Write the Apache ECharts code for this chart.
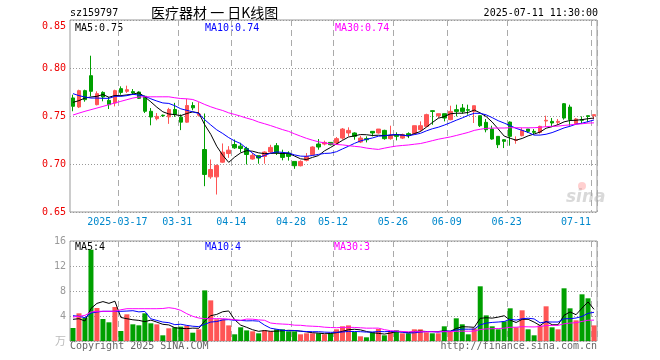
<!DOCTYPE html>
<html>
<head>
<meta charset="utf-8">
<script src="https://cdn.jsdelivr.net/npm/echarts@6/dist/echarts.min.js"></script>
<style>
    html, body {margin: 0; padding: 0; background: #fff;}
    #chart {width: 660px; height: 360px;}
</style>
</head>
<body>
<div id="chart"></div>
<script>
// 交易日
const dates = [
    '2025-03-05', '2025-03-06', '2025-03-07', '2025-03-10', '2025-03-11', '2025-03-12', '2025-03-13', '2025-03-14',
    '2025-03-17', '2025-03-18', '2025-03-19', '2025-03-20', '2025-03-21', '2025-03-24', '2025-03-25', '2025-03-26',
    '2025-03-27', '2025-03-28', '2025-03-31', '2025-04-01', '2025-04-02', '2025-04-03', '2025-04-07', '2025-04-08',
    '2025-04-09', '2025-04-10', '2025-04-11', '2025-04-14', '2025-04-15', '2025-04-16', '2025-04-17', '2025-04-18',
    '2025-04-21', '2025-04-22', '2025-04-23', '2025-04-24', '2025-04-25', '2025-04-28', '2025-04-29', '2025-04-30',
    '2025-05-06', '2025-05-07', '2025-05-08', '2025-05-09', '2025-05-12', '2025-05-13', '2025-05-14', '2025-05-15',
    '2025-05-16', '2025-05-19', '2025-05-20', '2025-05-21', '2025-05-22', '2025-05-23', '2025-05-26', '2025-05-27',
    '2025-05-28', '2025-05-29', '2025-05-30', '2025-06-03', '2025-06-04', '2025-06-05', '2025-06-06', '2025-06-09',
    '2025-06-10', '2025-06-11', '2025-06-12', '2025-06-13', '2025-06-16', '2025-06-17', '2025-06-18', '2025-06-19',
    '2025-06-20', '2025-06-23', '2025-06-24', '2025-06-25', '2025-06-26', '2025-06-27', '2025-06-30', '2025-07-01',
    '2025-07-02', '2025-07-03', '2025-07-04', '2025-07-07', '2025-07-08', '2025-07-09', '2025-07-10', '2025-07-11'
];

// 刻度日期
const tickDates = ['2025-03-17', '2025-03-31', '2025-04-14', '2025-04-28', '2025-05-12',
    '2025-05-26', '2025-06-09', '2025-06-23', '2025-07-11'];

const opens = [
    0.7688, 0.7594, 0.7764, 0.7920, 0.7618, 0.7746, 0.7663, 0.7635, 0.7785, 0.7757,
    0.7754, 0.7750, 0.7705, 0.7549, 0.7472, 0.7508, 0.7491, 0.7568, 0.7488, 0.7436,
    0.7609, 0.7509, 0.7151, 0.6866, 0.6866, 0.7019, 0.7109, 0.7203, 0.7186, 0.7162,
    0.7052, 0.7087, 0.7079, 0.7125, 0.7191, 0.7114, 0.7114, 0.7027, 0.6982, 0.7038,
    0.7097, 0.7208, 0.7208, 0.7225, 0.7218, 0.7270, 0.7323, 0.7323, 0.7229, 0.7264,
    0.7340, 0.7323, 0.7350, 0.7264, 0.7305, 0.7270, 0.7316, 0.7316, 0.7357, 0.7392,
    0.7555, 0.7503, 0.7524, 0.7462, 0.7566, 0.7583, 0.7566, 0.7548, 0.7503, 0.7434,
    0.7364, 0.7288, 0.7253, 0.7437, 0.7246, 0.7295, 0.7364, 0.7340, 0.7330, 0.7448,
    0.7444, 0.7434, 0.7628, 0.7593, 0.7420, 0.7462, 0.7503, 0.7503
];
const closes = [
    0.7601, 0.7764, 0.7670, 0.7757, 0.7733, 0.7698, 0.7618, 0.7764, 0.7746, 0.7774,
    0.7740, 0.7684, 0.7549, 0.7489, 0.7496, 0.7503, 0.7568, 0.7516, 0.7436, 0.7609,
    0.7585, 0.7520, 0.6891, 0.6943, 0.6984, 0.7123, 0.7144, 0.7168, 0.7162, 0.7099,
    0.7090, 0.7062, 0.7125, 0.7173, 0.7114, 0.7069, 0.7079, 0.6982, 0.7027, 0.7079,
    0.7177, 0.7177, 0.7225, 0.7201, 0.7264, 0.7364, 0.7350, 0.7288, 0.7270, 0.7253,
    0.7323, 0.7364, 0.7264, 0.7295, 0.7288, 0.7305, 0.7298, 0.7399, 0.7399, 0.7514,
    0.7548, 0.7524, 0.7479, 0.7548, 0.7548, 0.7548, 0.7560, 0.7607, 0.7399, 0.7357,
    0.7260, 0.7201, 0.7236, 0.7288, 0.7253, 0.7350, 0.7340, 0.7330, 0.7392, 0.7455,
    0.7427, 0.7444, 0.7479, 0.7462, 0.7469, 0.7455, 0.7496, 0.7514
];
const lows = [
    0.7549, 0.7583, 0.7649, 0.7705, 0.7611, 0.7653, 0.7573, 0.7600, 0.7722, 0.7740,
    0.7722, 0.7677, 0.7531, 0.7403, 0.7455, 0.7490, 0.7418, 0.7491, 0.7353, 0.7429,
    0.7560, 0.7495, 0.6769, 0.6846, 0.6682, 0.7012, 0.7064, 0.7158, 0.7123, 0.6995,
    0.7045, 0.7003, 0.7003, 0.7114, 0.7094, 0.7038, 0.7035, 0.6950, 0.6975, 0.7027,
    0.7087, 0.7149, 0.7194, 0.7194, 0.7201, 0.7253, 0.7288, 0.7253, 0.7218, 0.7225,
    0.7288, 0.7316, 0.7253, 0.7253, 0.7246, 0.7260, 0.7270, 0.7305, 0.7340, 0.7385,
    0.7409, 0.7479, 0.7444, 0.7455, 0.7496, 0.7524, 0.7514, 0.7427, 0.7385, 0.7330,
    0.7253, 0.7166, 0.7166, 0.7191, 0.7211, 0.7288, 0.7323, 0.7305, 0.7316, 0.7385,
    0.7385, 0.7410, 0.7462, 0.7399, 0.7410, 0.7420, 0.7434, 0.7469
];
const highs = [
    0.7722, 0.7774, 0.7774, 0.8128, 0.7757, 0.7757, 0.7698, 0.7774, 0.7809, 0.7816,
    0.7781, 0.7757, 0.7712, 0.7583, 0.7531, 0.7515, 0.7585, 0.7637, 0.7516, 0.7679,
    0.7644, 0.7644, 0.7526, 0.7047, 0.6995, 0.7214, 0.7186, 0.7255, 0.7221, 0.7180,
    0.7114, 0.7090, 0.7132, 0.7200, 0.7218, 0.7149, 0.7132, 0.7027, 0.7038, 0.7114,
    0.7184, 0.7260, 0.7243, 0.7225, 0.7281, 0.7375, 0.7382, 0.7330, 0.7295, 0.7288,
    0.7340, 0.7364, 0.7357, 0.7399, 0.7330, 0.7316, 0.7330, 0.7399, 0.7444, 0.7524,
    0.7558, 0.7524, 0.7524, 0.7607, 0.7618, 0.7625, 0.7618, 0.7607, 0.7503, 0.7469,
    0.7399, 0.7288, 0.7260, 0.7444, 0.7288, 0.7375, 0.7364, 0.7364, 0.7399, 0.7503,
    0.7479, 0.7469, 0.7635, 0.7618, 0.7479, 0.7496, 0.7503, 0.7514
];

// 成交量（万）
const volumes = [
    2.08, 4.43, 3.70, 14.6, 5.28, 3.52, 2.99, 5.44, 1.60, 4.27,
    2.67, 2.51, 4.43, 2.83, 2.67, 0.91, 2.03, 2.19, 2.30, 2.45,
    1.33, 1.87, 8.10, 6.50, 3.47, 3.47, 2.50, 1.07, 2.19, 1.70,
    1.55, 1.23, 1.70, 1.55, 1.87, 1.87, 1.55, 1.55, 1.07, 1.23,
    1.23, 1.23, 1.07, 1.23, 1.87, 2.35, 2.50, 1.44, 0.75, 0.59,
    1.39, 1.92, 0.91, 1.55, 1.71, 1.23, 1.23, 1.87, 1.87, 1.39,
    1.23, 1.23, 2.35, 1.55, 3.63, 2.67, 1.07, 2.03, 8.75, 4.10,
    2.35, 1.87, 3.15, 5.23, 2.19, 4.91, 1.87, 0.91, 2.50, 5.55,
    2.19, 1.87, 8.43, 5.23, 3.31, 7.47, 6.83, 2.50
];

// 均线开头几天（窗口不满，从图上读）
const priceMa5Head = [0.7642, 0.7660, 0.7687, 0.7698];
const priceMa10Head = [0.7733, 0.7712, 0.7698, 0.7687, 0.7687, 0.7684, 0.7684, 0.7705, 0.7705];
const priceMa30Head = [
    0.7510, 0.7530, 0.7549, 0.7566, 0.7583, 0.7600, 0.7618, 0.7636, 0.7653, 0.7670,
    0.7687, 0.7698, 0.7700, 0.7700, 0.7700, 0.7700, 0.7700, 0.7690, 0.7682, 0.7679,
    0.7672, 0.7648, 0.7620, 0.7596, 0.7575, 0.7557, 0.7533, 0.7516, 0.7498
];
const volMa5Head = [3.47, 3.57, 3.20, 5.20];
const volMa10Head = [4.05, 3.95, 3.73, 4.48, 4.64, 4.75, 4.75, 4.75, 4.75];
const volMa30Head = [
    3.84, 3.95, 4.10, 4.64, 4.75, 4.75, 4.75, 4.75, 5.00, 5.17,
    5.17, 5.17, 5.17, 5.17, 5.17, 5.20, 5.33, 5.20, 4.90, 4.37,
    3.95, 3.68, 3.57, 3.57, 3.57, 3.57, 3.50, 3.41, 3.31
];

const priceTicks = [0.65, 0.70, 0.75, 0.80, 0.85];
const volTicks = [0, 4, 8, 12, 16];

const RED = '#ff5555';
const GREEN = '#00a000';
const MONO = '"DejaVu Sans Mono", "Liberation Mono", monospace';

function calcMA(values, n, head) {
    return values.map(function (v, i) {
        if (i < n - 1) {
            return head[i];
        }
        let sum = 0;
        for (let j = i - n + 1; j <= i; j++) {
            sum += values[j];
        }
        return +(sum / n).toFixed(4);
    });
}

const tickIdx = tickDates.map(d => dates.indexOf(d));
const isTick = (i) => tickIdx.indexOf(i) >= 0;

const candleData = opens.map((o, i) => [o, closes[i], lows[i], highs[i]]);
const volData = volumes.map((v, i) => ({
    value: v,
    itemStyle: {color: closes[i] >= opens[i] ? RED : GREEN}
}));

const dashLine = {show: true, interval: (i) => isTick(i), lineStyle: {color: '#aaa', width: 1, type: [6, 4]}};
const dotLine = {show: true, lineStyle: {color: '#999', width: 1, type: [1, 2]}};

const chart = echarts.init(document.getElementById('chart'), null, {renderer: 'canvas'});

function label(text, x, y, color, align) {
    return {
        type: 'text', x: x, y: y, silent: true,
        style: {text: text, fill: color, font: '10px ' + MONO, textAlign: align || 'left', textVerticalAlign: 'middle'}
    };
}

const option = {
    animation: false,
    backgroundColor: '#fff',
    grid: [
        {left: 70, right: 63, top: 20, height: 192, show: true, borderColor: '#999', borderWidth: 1, backgroundColor: 'transparent'},
        {left: 70, right: 63, top: 241, height: 100, show: true, borderColor: '#999', borderWidth: 1, backgroundColor: 'transparent'}
    ],
    xAxis: [
        {
            type: 'category', gridIndex: 0, data: dates, boundaryGap: true,
            axisLine: {show: false}, axisTick: {show: false},
            axisLabel: {
                interval: (i) => isTick(i),
                margin: 5,
                color: '#0088cc',
                fontFamily: MONO,
                fontSize: 10,
                formatter: function (v, i) {
                    let t = i === tickIdx[0] ? v : v.slice(5);
                    return i === dates.length - 1 ? '{e|' + t + '}' : '{n|' + t + '}';
                },
                rich: {
                    n: {color: '#0088cc', fontFamily: MONO, fontSize: 10, padding: [0, 7, 0, 0]},
                    e: {color: '#0088cc', fontFamily: MONO, fontSize: 10, padding: [0, 36, 0, 0]}
                }
            },
            splitLine: dashLine
        },
        {
            type: 'category', gridIndex: 1, data: dates, boundaryGap: true,
            axisLine: {show: false}, axisTick: {show: false}, axisLabel: {show: false},
            splitLine: dashLine
        }
    ],
    yAxis: [
        {
            type: 'value', gridIndex: 0,
            min: priceTicks[0], max: priceTicks[priceTicks.length - 1], interval: 0.05,
            axisLine: {show: false}, axisTick: {show: false},
            axisLabel: {
                color: '#ee0000', fontFamily: MONO, fontSize: 10, margin: 4,
                // 顶部标签往下挪一点
                formatter: (v) => v >= 0.849 ? '{t|' + v.toFixed(2) + '}' : v.toFixed(2),
                rich: {t: {color: '#ee0000', fontFamily: MONO, fontSize: 10, padding: [12, 0, 0, 0]}}
            },
            splitLine: dotLine
        },
        {
            type: 'value', gridIndex: 1,
            min: volTicks[0], max: volTicks[volTicks.length - 1], interval: 4,
            axisLine: {show: false}, axisTick: {show: false},
            axisLabel: {
                color: '#999', fontFamily: MONO, fontSize: 10, margin: 4,
                formatter: (v) => v === 0 ? '{u|万}' : String(v),
                rich: {u: {color: '#bbb', fontSize: 11, fontFamily: '"Noto Sans CJK SC"'}}
            },
            splitLine: dotLine
        }
    ],
    series: [
        {
            name: 'K', type: 'candlestick', xAxisIndex: 0, yAxisIndex: 0,
            data: candleData, barWidth: 4,
            itemStyle: {color: RED, color0: GREEN, borderColor: RED, borderColor0: GREEN, borderWidth: 1}
        },
        {type: 'line', xAxisIndex: 0, yAxisIndex: 0, data: calcMA(closes, 5, priceMa5Head), symbol: 'none', lineStyle: {color: '#000', width: 1}, z: 5},
        {type: 'line', xAxisIndex: 0, yAxisIndex: 0, data: calcMA(closes, 10, priceMa10Head), symbol: 'none', lineStyle: {color: '#0000ff', width: 1}, z: 5},
        {type: 'line', xAxisIndex: 0, yAxisIndex: 0, data: calcMA(closes, 30, priceMa30Head), symbol: 'none', lineStyle: {color: '#ff00ff', width: 1}, z: 5},
        {
            name: 'VOL', type: 'bar', xAxisIndex: 1, yAxisIndex: 1,
            data: volData, barWidth: 5
        },
        {type: 'line', xAxisIndex: 1, yAxisIndex: 1, data: calcMA(volumes, 5, volMa5Head), symbol: 'none', lineStyle: {color: '#000', width: 1}, z: 5},
        {type: 'line', xAxisIndex: 1, yAxisIndex: 1, data: calcMA(volumes, 10, volMa10Head), symbol: 'none', lineStyle: {color: '#0000ff', width: 1}, z: 5},
        {type: 'line', xAxisIndex: 1, yAxisIndex: 1, data: calcMA(volumes, 30, volMa30Head), symbol: 'none', lineStyle: {color: '#ff00ff', width: 1}, z: 5}
    ],
    graphic: [
        label('sz159797', 70, 13, '#000'),
        {
            type: 'text', x: 151, y: 13, silent: true,
            style: {text: '医疗器材 一 日K线图', fill: '#000', font: '14px "Noto Sans CJK SC"', textVerticalAlign: 'middle'}
        },
        label('2025-07-11 11:30:00', 598, 13, '#000', 'right'),
        label('MA5:0.75', 75, 28, '#000'),
        label('MA10:0.74', 205, 28, '#0000ff'),
        label('MA30:0.74', 335, 28, '#ff00ff'),
        label('MA5:4', 75, 247, '#000'),
        label('MA10:4', 205, 247, '#0000ff'),
        label('MA30:3', 334, 247, '#ff00ff'),
        label('Copyright 2025 SINA.COM', 70, 346, '#666'),
        label('http://finance.sina.com.cn', 597, 346, '#666', 'right'),
        {
            type: 'text', x: 566, y: 198, silent: true, z: 1,
            style: {text: 'sina', fill: 'rgba(170,170,170,0.45)', font: 'italic bold 17px "DejaVu Sans"', textVerticalAlign: 'middle'}
        },
        {
            type: 'circle', shape: {cx: 582, cy: 186, r: 4}, silent: true, z: 1,
            style: {fill: 'rgba(255,120,120,0.35)'}
        }
    ]
};

chart.setOption(option);
</script>
</body>
</html>
